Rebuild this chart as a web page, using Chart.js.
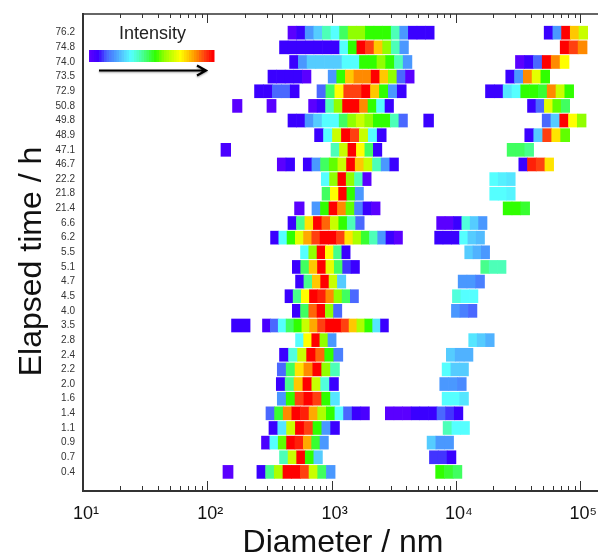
<!DOCTYPE html>
<html><head><meta charset="utf-8">
<style>html,body{margin:0;padding:0;background:#fff;overflow:hidden}#w{width:598px;height:555px;position:relative}</style>
<script src="https://cdn.jsdelivr.net/npm/chart.js@4"></script>
</head><body><div id="w"><canvas id="c" width="598" height="555"></canvas></div>
<script>
// Elapsed-time rows, top to bottom
const elapsedHours = ["76.2","74.8","74.0","73.5","72.9","50.8","49.8","48.9","47.1","46.7","22.2","21.8","21.4","6.6","6.2","5.5","5.1","4.7","4.5","4.0","3.5","2.8","2.4","2.2","2.0","1.6","1.4","1.1","0.9","0.7","0.4"];
// Main population: log10(diameter/nm) of first and last bin edge, and intensity level of each bin
const mainFromLog = [2.649,2.581,2.662,2.488,2.380,2.815,2.649,2.863,2.995,2.563,2.917,2.923,2.842,2.649,2.509,2.750,2.684,2.710,2.625,2.684,2.444,2.710,2.581,2.563,2.555,2.563,2.472,2.496,2.436,2.581,2.399];
const mainToLog = [3.825,3.618,3.646,3.664,3.600,3.498,3.610,3.439,3.404,3.538,3.318,3.256,3.390,3.262,3.570,3.149,3.224,3.114,3.216,3.082,3.457,3.036,3.090,3.063,3.055,3.063,3.304,3.063,2.974,2.926,3.028];
const mainLevels = [
[0,1,3,4,6,5,7,9,9,8,8,8,6,3,1,1,1],
[1,1,1,1,1,1,1,5,8,15,14,12,9,6,3],
[1,3,4,4,4,4,5,5,8,8,9,8,6,3],
[1,1,1,1,0,null,null,3,8,12,13,13,15,12,9,2,0],
[1,1,2,2,1,null,null,2,7,11,14,14,15,12,8,3,1],
[0,1,6,9,15,15,13,8,5,1],
[1,1,3,4,5,5,7,9,10,9,8,8,6,2],
[1,5,10,15,14,10,5,1],
[6,10,15,11,7,1],
[0,1,null,1,3,7,8.5,10,15,12,10,6,3,1],
[5,9,15,9,6,0],
[7,11,15,8,3],
[3,8,15,13,8.5,2.5,1,0],
[1,6.5,11.5,15,13.5,10,8,6,2],
[1,5,8,10.5,12.5,14,15,15,14,11.5,9.5,7.5,6,3,1,0],
[5,9,15,11,6.5,1],
[1,7,12,15,10.5,7,1.5,1],
[1,6.5,12,15,10,4],
[1,6.5,11,15,14.5,13,9,7,2],
[1,7,13.5,15,9,2],
[0.5,2,5,7,8,10,12.5,14,15,15,14,12,9.5,8,4.5,1],
[5,11,15,9,3],
[1,5.5,10,15,13.5,8,2.5],
[2,7,11.5,13,15,9,6],
[1,6.5,12,15,10,5.5,1],
[3,8,14,15,14,8,4.5],
[2,7.5,13,15,14.5,12.5,9.5,8,5,2,1,0.5],
[1,4.5,10,15,14,8,3,1],
[0.5,5,8.5,15,14.5,12.5,7.5,3],
[6,10,15,8,4],
[1,6.5,9.5,15,15,14,10,7,3]];
// Large-particle population
const sideFromLog = [4.710,4.839,4.479,4.401,4.238,4.576,4.694,4.554,4.412,4.506,4.272,4.272,4.380,3.845,3.829,4.071,4.200,4.018,3.972,3.964,null,4.103,3.923,3.889,3.870,3.889,3.432,3.897,3.768,3.787,3.837];
const sideToLog = [5.060,5.055,4.910,4.754,4.947,4.915,5.047,4.915,4.625,4.786,4.477,4.477,4.593,4.250,4.230,4.271,4.403,4.230,4.177,4.169,null,4.308,4.137,4.101,4.083,4.101,4.056,4.109,3.981,4.000,4.048];
const sideLevels = [
[1,3,15,12,10],
[15,14,13],
[0,1,2,15,13,11],
[1,3,13,10.5,8],
[1,1,4.5,5,8,8,7.5,13,10,8],
[1,2,10.5,8.5,7],
[2,4,15,11,9],
[1,4,14,11.5,8.5],
[7,7,6.5],
[1,14.5,14,11.5],
[5,4.7,4.5],
[5,5,4.8],
[8,8,7.5],
[0,0,1,5.5,4,3],
[1,1,1,5,4,3.7],
[4,3.5,3],
[6.5,6,6],
[3,3,2.5],
[5.5,5,5],
[3,2.5,2],
[],
[4.5,4,3.5],
[4,3.5,3.5],
[5,4,4],
[3,3,2.7],
[5,5,4.5],
[0,0,0,1,1,1,2,1.5,1],
[6,5,5],
[4,3,3],
[1.5,1.5,1],
[8,7.5,7]];
// Stray single bins: row index, edges, level
const strayRow = [5,5,6,8,12,20,30];
const strayFromLog = [2.203,2.480,3.741,2.110,2.702,2.195,2.126];
const strayToLog = [2.279,2.553,3.820,2.188,2.779,2.344,2.207];
const strayLevel = [0,0,1,0.5,0,1,0];
// Colour key: intensity level 0..15
const paletteHex = ["#5a00ff","#3a00ff","#4a68ff","#4a98ff","#55ccff","#55ffff","#4dffb8","#40ff60","#30ff00","#90ff00","#c8ff00","#ffff00","#ffc800","#ff8a00","#ff4010","#ff0000"];
const xTickDecades = [1,2,3,4,5];
const superscripts = {1:"\u00b9",2:"\u00b2",3:"\u00b3",4:"\u2074",5:"\u2075"};

function rgb(h){return [1,3,5].map(i=>parseInt(h.substr(i,2),16));}
function colorOf(level){
  const a=Math.floor(level),b=Math.min(15,a+1),t=level-a;
  const A=rgb(paletteHex[a]),B=rgb(paletteHex[b]);
  return "rgb("+A.map((v,i)=>Math.round(v+(B[i]-v)*t)).join(",")+")";
}
const cells=[],cellColors=[];
function addBlock(row,from,to,levels){
  const n=levels.length; if(!n)return;
  const step=(to-from)/n;
  levels.forEach((lv,i)=>{
    if(lv===null)return;
    cells.push({y:row,x:[Math.pow(10,from+i*step),Math.pow(10,from+(i+1)*step)]});
    cellColors.push(colorOf(lv));
  });
}
elapsedHours.forEach((_,r)=>{
  addBlock(r,mainFromLog[r],mainToLog[r],mainLevels[r]);
  if(sideFromLog[r]!==null)addBlock(r,sideFromLog[r],sideToLog[r],sideLevels[r]);
});
strayRow.forEach((r,i)=>addBlock(r,strayFromLog[i],strayToLog[i],[strayLevel[i]]));

const overlay={id:'overlay',afterDraw(chart){
  const ctx=chart.ctx,x=chart.scales.x,a=chart.chartArea;
  ctx.save();
  ctx.strokeStyle="#333";ctx.lineWidth=1.5;
  ctx.beginPath();ctx.moveTo(a.left,a.top);ctx.lineTo(a.right,a.top);ctx.stroke();
  ctx.lineWidth=1;
  x.ticks.forEach(t=>{
    const p=Math.round(x.getPixelForValue(t.value))+0.5;
    const d=Math.log10(t.value);
    const major=Math.abs(d-Math.round(d))<1e-6;
    ctx.beginPath();ctx.moveTo(p,a.bottom);ctx.lineTo(p,a.bottom-(major?10:5));
    ctx.moveTo(p,a.top);ctx.lineTo(p,a.top+(major?9:4));ctx.stroke();
  });
  // colour key
  const kx=89,kw=125,ky=50,kh=12,n=50;
  for(let i=0;i<n;i++){
    ctx.fillStyle=colorOf(15*i/(n-1));
    ctx.fillRect(kx+kw*i/n,ky,kw/n+0.5,kh);
  }
  ctx.fillStyle="#222";ctx.font="18px 'Liberation Sans'";ctx.textAlign="left";ctx.textBaseline="middle";
  ctx.fillText("Intensity",119,34);
  // arrow
  ctx.strokeStyle="#000";ctx.lineWidth=2.2;
  ctx.shadowColor="rgba(0,0,0,0.4)";ctx.shadowBlur=2;ctx.shadowOffsetY=1;
  ctx.beginPath();ctx.moveTo(99,70.5);ctx.lineTo(206,70.5);
  ctx.moveTo(197,65.5);ctx.lineTo(206,70.5);ctx.lineTo(197,75.5);ctx.stroke();
  ctx.shadowColor="transparent";ctx.shadowBlur=0;ctx.shadowOffsetY=0;
  // axis titles
  ctx.fillStyle="#111";ctx.font="32px 'Liberation Sans'";ctx.textAlign="center";ctx.textBaseline="alphabetic";
  ctx.fillText("Diameter / nm",343,552);
  ctx.translate(41,261.5);ctx.rotate(-Math.PI/2);
  ctx.fillText("Elapsed time / h",0,0);
  ctx.restore();
}};

new Chart(document.getElementById('c'),{
  type:'bar',
  plugins:[overlay],
  data:{datasets:[{data:cells,backgroundColor:cellColors,barThickness:13,borderWidth:0}]},
  options:{
    indexAxis:'y',responsive:false,animation:false,
    layout:{padding:{top:14,right:0,bottom:0,left:0}},
    plugins:{legend:{display:false},tooltip:{enabled:false}},
    scales:{
      x:{type:'logarithmic',position:'bottom',min:10,max:Math.pow(10,5.143),
        afterFit(s){s.height=64;s.paddingLeft=0;s.paddingRight=0;},
        afterBuildTicks(s){const t=[];xTickDecades.forEach(d=>{for(let m=1;m<10;m++){const v=m*Math.pow(10,d);if(v<=s.max)t.push({value:v});}});s.ticks=t;},
        grid:{display:false,drawTicks:false},
        border:{display:true,color:"#333",width:2},
        ticks:{autoSkip:false,maxRotation:0,padding:12,labelOffset:3,color:"#111",font:{family:"'Liberation Sans'",size:18},
          callback(v){const d=Math.log10(v);return Math.abs(d-Math.round(d))<1e-6?"10"+superscripts[Math.round(d)]:"";}}
      },
      y:{type:'linear',reverse:true,offset:false,min:-1.277,max:31.305,
        afterFit(s){s.width=83;s.paddingTop=0;s.paddingBottom=0;},
        afterBuildTicks(s){s.ticks=elapsedHours.map((_,i)=>({value:i}));},
        grid:{display:false,drawTicks:false},
        border:{display:true,color:"#333",width:2},
        ticks:{autoSkip:false,padding:8,color:"#333",font:{family:"'Liberation Sans'",size:10},callback(v){return elapsedHours[v];}}
      }
    }
  }
});
</script></body></html>
